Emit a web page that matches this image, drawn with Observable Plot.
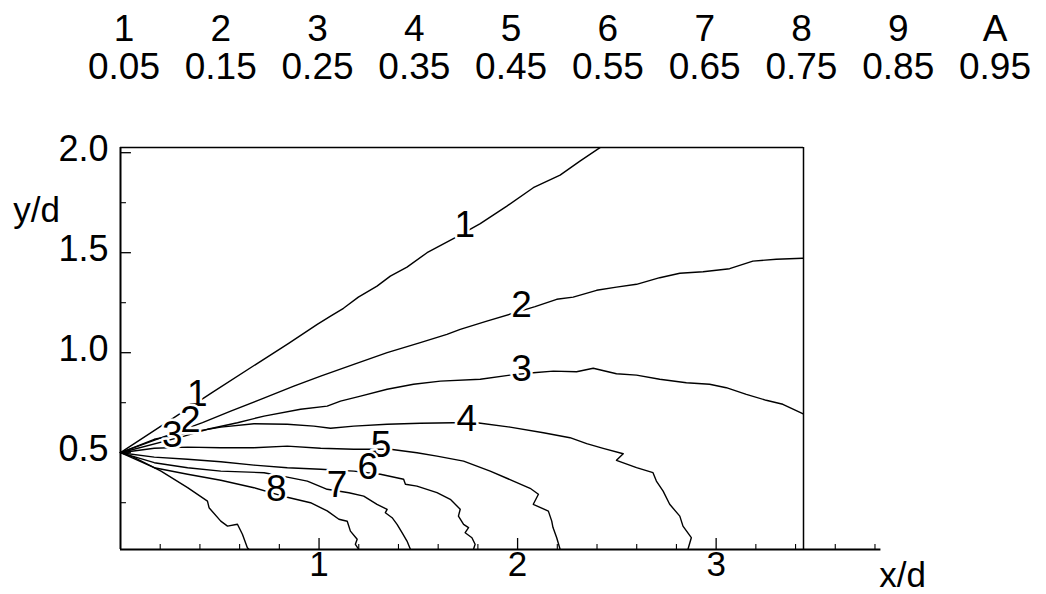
<!DOCTYPE html>
<html>
<head>
<meta charset="utf-8">
<script src="https://cdn.jsdelivr.net/npm/d3@7"></script>
<script src="https://cdn.jsdelivr.net/npm/@observablehq/plot@0.6"></script>
<style>
  body { margin: 0; background: #fff; }
  #key, #chart { display: block; }
  svg { font-family: "Liberation Sans", Arial, Helvetica, sans-serif; }
</style>
</head>
<body>
<div id="key"></div>
<div id="chart"></div>
<script>
// Contour codes and the levels they stand for
const codes = ["1", "2", "3", "4", "5", "6", "7", "8", "9", "A"];
const levels = [0.05, 0.15, 0.25, 0.35, 0.45, 0.55, 0.65, 0.75, 0.85, 0.95];

// Contour lines, [x/d, y/d]; all of them start from the source at (0, 0.5)
const contour1 = [[0, 0.5], [0.279, 0.682], [0.455, 0.797], [0.847, 1.047], [0.991, 1.142], [1.058, 1.183],
  [1.123, 1.222], [1.198, 1.278], [1.292, 1.333], [1.359, 1.383], [1.443, 1.428], [1.544, 1.500],
  [1.686, 1.575], [1.812, 1.645], [1.946, 1.733], [2.079, 1.825], [2.214, 1.888], [2.314, 1.958], [2.415, 2.025]];
const contour2 = [[0, 0.5], [0.413, 0.650], [0.555, 0.708], [0.706, 0.767], [0.873, 0.833], [1.008, 0.883],
  [1.175, 0.942], [1.343, 1.000], [1.510, 1.050], [1.644, 1.092], [1.711, 1.117], [1.845, 1.158],
  [2.088, 1.230], [2.197, 1.267], [2.280, 1.278], [2.398, 1.312], [2.498, 1.328], [2.599, 1.342],
  [2.716, 1.375], [2.817, 1.397], [2.934, 1.405], [3.068, 1.420], [3.185, 1.458], [3.303, 1.467], [3.436, 1.472]];
const contour3 = [[0, 0.5], [0.321, 0.583], [0.438, 0.617], [0.589, 0.650], [0.723, 0.683], [0.907, 0.717],
  [1.041, 0.733], [1.108, 0.758], [1.209, 0.783], [1.343, 0.817], [1.476, 0.842], [1.611, 0.858],
  [1.812, 0.867], [1.962, 0.888], [2.079, 0.900], [2.180, 0.908], [2.297, 0.905], [2.381, 0.922],
  [2.498, 0.895], [2.599, 0.888], [2.716, 0.867], [2.850, 0.850], [2.967, 0.842], [3.051, 0.825],
  [3.152, 0.792], [3.252, 0.762], [3.336, 0.742], [3.436, 0.695]];
const contour4 = [[0, 0.5], [0.170, 0.567], [0.338, 0.600], [0.505, 0.628], [0.672, 0.645], [0.840, 0.642],
  [0.974, 0.633], [1.058, 0.622], [1.175, 0.633], [1.343, 0.642], [1.510, 0.647], [1.677, 0.650],
  [1.795, 0.650], [1.962, 0.628], [2.130, 0.600], [2.264, 0.575], [2.348, 0.545], [2.431, 0.522],
  [2.532, 0.495], [2.498, 0.462], [2.599, 0.425], [2.682, 0.400], [2.699, 0.358], [2.733, 0.308],
  [2.766, 0.242], [2.817, 0.183], [2.833, 0.133], [2.875, 0.075], [2.858, 0.017]];
const contour5 = [[0, 0.5], [0.170, 0.522], [0.338, 0.528], [0.505, 0.525], [0.672, 0.525], [0.840, 0.533],
  [1.008, 0.522], [1.175, 0.517], [1.359, 0.517], [1.493, 0.500], [1.594, 0.483], [1.728, 0.458],
  [1.862, 0.408], [1.979, 0.358], [2.063, 0.322], [2.105, 0.292], [2.079, 0.242], [2.155, 0.208],
  [2.172, 0.158], [2.178, 0.127], [2.197, 0.075], [2.214, 0.017]];
const contour6 = [[0, 0.5], [0.170, 0.478], [0.338, 0.467], [0.505, 0.455], [0.672, 0.438], [0.840, 0.425],
  [1.008, 0.417], [1.175, 0.408], [1.309, 0.392], [1.426, 0.367], [1.435, 0.342], [1.493, 0.333],
  [1.594, 0.300], [1.661, 0.267], [1.711, 0.217], [1.702, 0.183], [1.728, 0.142], [1.753, 0.125],
  [1.736, 0.100], [1.770, 0.075], [1.786, 0.042], [1.778, 0.017]];
const contour7 = [[0, 0.5], [0.170, 0.450], [0.338, 0.425], [0.505, 0.408], [0.723, 0.400], [0.840, 0.378],
  [0.941, 0.358], [1.041, 0.317], [1.150, 0.300], [1.225, 0.283], [1.292, 0.242], [1.343, 0.217],
  [1.334, 0.200], [1.368, 0.175], [1.393, 0.142], [1.418, 0.100], [1.443, 0.058], [1.460, 0.017]];
const contour8 = [[0, 0.5], [0.170, 0.425], [0.338, 0.392], [0.505, 0.362], [0.672, 0.325], [0.840, 0.277],
  [0.957, 0.250], [1.041, 0.209], [1.100, 0.167], [1.142, 0.157], [1.158, 0.108], [1.192, 0.067],
  [1.183, 0.042], [1.200, 0.017]];
const contour9 = [[0, 0.5], [0.068, 0.477], [0.204, 0.408], [0.338, 0.325], [0.438, 0.258], [0.446, 0.225],
  [0.505, 0.158], [0.539, 0.133], [0.589, 0.142], [0.614, 0.092], [0.639, 0.025], [0.646, 0.017]];
const contours = [contour1, contour2, contour3, contour4, contour5, contour6, contour7, contour8, contour9];

// Inline contour labels: code and where it sits
const labelCodes = ["1", "2", "3", "1", "2", "3", "4", "5", "6", "7", "8"];
const labelX = [0.387, 0.352, 0.261, 1.734, 2.020, 2.020, 1.744, 1.312, 1.246, 1.090, 0.784];
const labelY = [0.792, 0.662, 0.587, 1.637, 1.237, 0.917, 0.667, 0.537, 0.427, 0.337, 0.317];

// Axis ticks
const xMajorTicks = [1, 2, 3];
const xMinorTicks = [0.2, 0.4, 0.6, 0.8, 1.2, 1.4, 1.6, 1.8, 2.2, 2.4, 2.6, 2.8, 3.2, 3.4, 3.6, 3.8];
const yMajorTicks = [0.5, 1.0, 1.5, 2.0];
const yMinorTicks = [0.25, 0.75, 1.25, 1.75];

const xMax = 3.44, xAxisEnd = 3.83;
const yMin = 0.016, yMax = 2.026;
const font = '"Liberation Sans", Arial, Helvetica, sans-serif';

// Key above the plot: contour code over its level
const key = d3.select("#key").append("svg")
  .attr("width", 1046).attr("height", 100)
  .style("font-family", font).style("font-size", "37px");
const keyCol = d3.scalePoint().domain(codes).range([124, 995]);
key.selectAll("text.code").data(codes).join("text")
  .attr("class", "code").attr("x", d => keyCol(d)).attr("y", 41)
  .attr("text-anchor", "middle").text(d => d);
key.selectAll("text.level").data(levels).join("text")
  .attr("class", "level").attr("x", (d, i) => keyCol(codes[i])).attr("y", 79)
  .attr("text-anchor", "middle").text(d => d3.format(".2f")(d));

const lineRows = contours.flatMap((pts, i) => pts.map(([x, y]) => ({code: codes[i], x, y})));
const labelRows = labelCodes.map((c, i) => ({code: c, x: labelX[i], y: labelY[i]}));

const chart = Plot.plot({
  width: 1046,
  height: 494,
  marginTop: 43,
  marginBottom: 49,
  marginLeft: 120,
  marginRight: 243,
  x: {domain: [0, xMax]},
  y: {domain: [yMin, yMax]},
  style: {fontFamily: font, background: "white", color: "black"},
  marks: [
    Plot.line(lineRows, {x: "x", y: "y", z: "code", stroke: "black", strokeWidth: 1.4}),
    Plot.text(labelRows, {x: "x", y: "y", text: "code", fontSize: 37, fill: "black",
      stroke: "white", strokeWidth: 5, paintOrder: "stroke"}),
    // frame: top and right edges thin, the two axes heavier
    Plot.ruleY([yMax], {x1: 0, x2: xMax, stroke: "black", strokeWidth: 1.5}),
    Plot.ruleX([xMax], {y1: yMin, y2: yMax, stroke: "black", strokeWidth: 1.5}),
    Plot.ruleX([0], {y1: yMin, y2: yMax, stroke: "black", strokeWidth: 2}),
    Plot.ruleY([yMin], {x1: 0, x2: xAxisEnd, stroke: "black", strokeWidth: 2.2}),
    // inward ticks
    Plot.ruleX(xMajorTicks, {x: d => d, y1: yMin, y2: yMin + 0.055, stroke: "black", strokeWidth: 1.3}),
    Plot.ruleX(xMinorTicks, {x: d => d, y1: yMin, y2: yMin + 0.025, stroke: "black", strokeWidth: 1.1}),
    Plot.ruleY(yMajorTicks, {y: d => d, x1: 0, x2: 0.055, stroke: "black", strokeWidth: 1.3}),
    Plot.ruleY(yMinorTicks, {y: d => d, x1: 0, x2: 0.03, stroke: "black", strokeWidth: 1.1}),
    Plot.axisX({ticks: xMajorTicks, tickFormat: "d", tickSize: 0, tickPadding: 2, fontSize: 35, label: null}),
    Plot.axisY({ticks: yMajorTicks, tickFormat: ".1f", tickSize: 0, tickPadding: 12, dy: -3, fontSize: 36, label: null}),
    Plot.text(["y/d"], {frameAnchor: "top-left", textAnchor: "middle", lineAnchor: "middle",
      dx: -84, dy: 63, fontSize: 35}),
    Plot.text(["x/d"], {frameAnchor: "bottom-right", textAnchor: "middle", lineAnchor: "middle",
      dx: 99, dy: 26, fontSize: 35})
  ]
});
document.getElementById("chart").append(chart);
</script>
</body>
</html>
